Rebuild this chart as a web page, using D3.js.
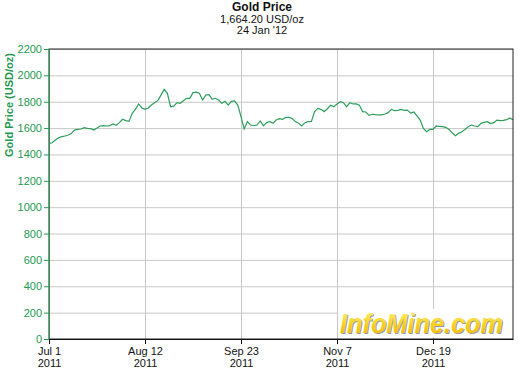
<!DOCTYPE html>
<html>
<head>
<meta charset="utf-8">
<script src="https://cdnjs.cloudflare.com/ajax/libs/d3/7.8.5/d3.min.js"></script>
<style>
  body { margin: 0; background: #fff; }
  text { font-family: "Liberation Sans", Arial, sans-serif; }
</style>
</head>
<body>
<script>
// gold price, one value per trading day, Jul 1 2011 .. Jan 24 2012
var prices = [
  1484, 1489, 1510, 1527, 1535, 1540, 1548, 1560, 1585, 1590,
  1593, 1603, 1598, 1596, 1585, 1600, 1616, 1618, 1616, 1618,
  1631, 1621, 1641, 1667, 1657, 1651, 1712, 1742, 1783, 1755,
  1742, 1752, 1775, 1793, 1808, 1850, 1894, 1864, 1762, 1767,
  1793, 1788, 1808, 1826, 1826, 1869, 1872, 1864, 1813, 1851,
  1854, 1818, 1826, 1813, 1788, 1803, 1775, 1803, 1806, 1775,
  1687, 1593, 1649, 1623, 1618, 1623, 1654, 1618, 1641, 1651,
  1636, 1661, 1672, 1667, 1682, 1682, 1672, 1649, 1636, 1616,
  1641, 1649, 1651, 1725, 1750, 1742, 1725, 1747, 1773, 1762,
  1783, 1801, 1793, 1762, 1793, 1783, 1783, 1773, 1725, 1722,
  1697, 1705, 1702, 1700, 1700, 1707, 1717, 1742, 1732, 1735,
  1742, 1735, 1737, 1714, 1722, 1692, 1661, 1598, 1572, 1590,
  1590, 1616, 1613, 1611, 1606, 1590, 1565, 1542, 1560, 1572,
  1590, 1611, 1623, 1616, 1611, 1636, 1644, 1649, 1634, 1641,
  1661, 1657, 1659, 1664, 1677, 1664
];
var tickIndex = [0, 30, 60, 90, 120];
var tickDay = ["Jul 1", "Aug 12", "Sep 23", "Nov 7", "Dec 19"];
var tickYear = ["2011", "2011", "2011", "2011", "2011"];
var yTicks = [0, 200, 400, 600, 800, 1000, 1200, 1400, 1600, 1800, 2000, 2200];
var titleLines = ["Gold Price", "1,664.20 USD/oz", "24 Jan '12"];

var width = 519, height = 372;
var plotLeft = 49, plotRight = 513, plotTop = 49, plotBottom = 339;
var green = "#23994f";

var svg = d3.select("body")
    .append("svg")
    .attr("width", width)
    .attr("height", height);

var xScale = d3.scaleLinear()
    .domain([0, prices.length - 1])
    .range([plotLeft, plotRight]);

var yScale = d3.scaleLinear()
    .domain([0, 2200])
    .range([plotBottom, plotTop]);

// grid
svg.append("g")
    .attr("transform", "translate(" + plotLeft + ",0)")
    .call(d3.axisLeft(yScale).tickValues(yTicks).tickSize(-(plotRight - plotLeft)).tickFormat(""))
    .call(function(g) { g.select(".domain").remove(); })
    .selectAll("line").attr("stroke", "#c8c8c8");

svg.append("g")
    .attr("transform", "translate(0," + plotBottom + ")")
    .call(d3.axisBottom(xScale).tickValues(tickIndex).tickSize(-(plotBottom - plotTop)).tickFormat(""))
    .call(function(g) { g.select(".domain").remove(); })
    .selectAll("line").attr("stroke", "#c8c8c8");

// logo box
var logo = svg.append("g");
logo.append("rect")
    .attr("x", 338).attr("y", 309)
    .attr("width", plotRight - 338).attr("height", 28)
    .attr("fill", "#fff");

var grad = svg.append("defs").append("linearGradient")
    .attr("id", "gold").attr("x1", 0).attr("y1", 0).attr("x2", 0).attr("y2", 1);
grad.append("stop").attr("offset", "0%").attr("stop-color", "#fff27a");
grad.append("stop").attr("offset", "55%").attr("stop-color", "#f7cf1c");
grad.append("stop").attr("offset", "100%").attr("stop-color", "#eeb40e");

logo.append("text")
    .attr("x", 341).attr("y", 334)
    .attr("font-size", 27).attr("font-weight", "bold").attr("font-style", "italic")
    .attr("textLength", 163).attr("lengthAdjust", "spacingAndGlyphs")
    .attr("fill", "#9a9a9a")
    .text("InfoMine.com");
logo.append("text")
    .attr("x", 340).attr("y", 333)
    .attr("font-size", 27).attr("font-weight", "bold").attr("font-style", "italic")
    .attr("textLength", 163).attr("lengthAdjust", "spacingAndGlyphs")
    .attr("fill", "url(#gold)")
    .text("InfoMine.com");

// price line
var line = d3.line()
    .x(function(d, i) { return xScale(i); })
    .y(function(d) { return yScale(d); });

svg.append("path")
    .datum(prices)
    .attr("fill", "none")
    .attr("stroke", "#2ca05a")
    .attr("stroke-width", 1.2)
    .attr("d", line);

// frame
svg.append("rect")
    .attr("x", plotLeft).attr("y", plotTop)
    .attr("width", plotRight - plotLeft).attr("height", plotBottom - plotTop)
    .attr("fill", "none")
    .attr("stroke", "#222");

// y axis
var yAxis = svg.append("g")
    .attr("transform", "translate(" + plotLeft + ",0)")
    .call(d3.axisLeft(yScale).tickValues(yTicks).tickSize(5).tickPadding(2)
        .tickSizeOuter(0).tickFormat(d3.format("d")));
yAxis.select(".domain").attr("stroke", green);
yAxis.selectAll("line").attr("stroke", green);
yAxis.selectAll("text")
    .attr("fill", green)
    .attr("font-size", 11)
    .style("font-family", "'Liberation Sans', Arial, sans-serif");

// x axis
var xAxis = svg.append("g")
    .attr("transform", "translate(0," + plotBottom + ")")
    .call(d3.axisBottom(xScale).tickValues(tickIndex).tickSize(5).tickSizeOuter(0).tickFormat(""));
xAxis.select(".domain").attr("stroke", "#111");
xAxis.selectAll("line").attr("stroke", "#111");
xAxis.selectAll(".tick").each(function(d, i) {
    var t = d3.select(this).append("text")
        .attr("fill", "#111")
        .attr("font-size", 11)
        .attr("text-anchor", "middle")
        .style("font-family", "'Liberation Sans', Arial, sans-serif");
    t.append("tspan").attr("x", 0).attr("y", 16).text(tickDay[i]);
    t.append("tspan").attr("x", 0).attr("y", 28).text(tickYear[i]);
});

// titles
svg.selectAll(".title")
    .data(titleLines)
    .enter()
    .append("text")
    .attr("class", "title")
    .attr("x", 262)
    .attr("y", function(d, i) { return [11, 22.5, 34][i]; })
    .attr("text-anchor", "middle")
    .attr("font-size", function(d, i) { return i == 0 ? 12 : 11; })
    .attr("font-weight", function(d, i) { return i == 0 ? "bold" : "normal"; })
    .attr("fill", "#111")
    .text(function(d) { return d; });

svg.append("text")
    .attr("transform", "translate(13,105) rotate(-90)")
    .attr("text-anchor", "middle")
    .attr("font-size", 11)
    .attr("font-weight", "bold")
    .attr("fill", green)
    .text("Gold Price (USD/oz)");
</script>
</body>
</html>
